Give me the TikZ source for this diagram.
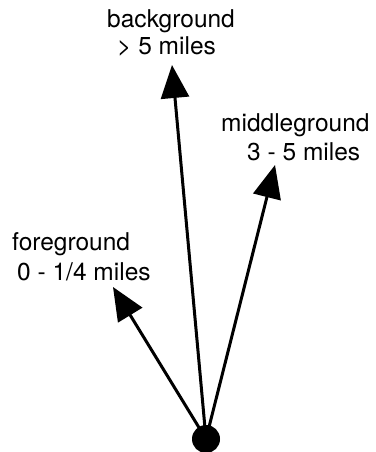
\documentclass[tikz,border=0pt]{standalone}
\usepackage{fontspec}
\setmainfont{TeX Gyre Heros}
\usetikzlibrary{arrows.meta}
\begin{document}
\begin{tikzpicture}[x=1pt,y=-1pt,
  lbl/.style={font=\fontsize{24.5}{27}\selectfont, align=left, inner sep=0pt, anchor=north west},
  ray/.style={line width=3pt, -{Triangle[length=33pt,width=28pt]}}]
\useasboundingbox (0,0) rectangle (375,452);
\node[circle, fill=black, minimum size=28pt, inner sep=0pt] (o) at (206,439) {};
\coordinate (bg) at (172,65);
\coordinate (mg) at (275,165);
\coordinate (fg) at (113,287);
\node[lbl] (tb) at (107,9.5) {background\\\hspace*{10pt}> 5 miles};
\node[lbl, font=\fontsize{24.5}{29}\selectfont] (tm) at (221,113) {middleground\\\hspace*{26pt}3 - 5 miles};
\node[lbl, font=\fontsize{24.5}{30}\selectfont] (tf) at (12,232) {foreground\\\hspace*{5pt}0 - 1/4 miles};
\draw[ray] (o.center) -- (bg);
\draw[ray] (o.center) -- (mg);
\draw[ray] (o.center) -- (fg);
\end{tikzpicture}
\end{document}
